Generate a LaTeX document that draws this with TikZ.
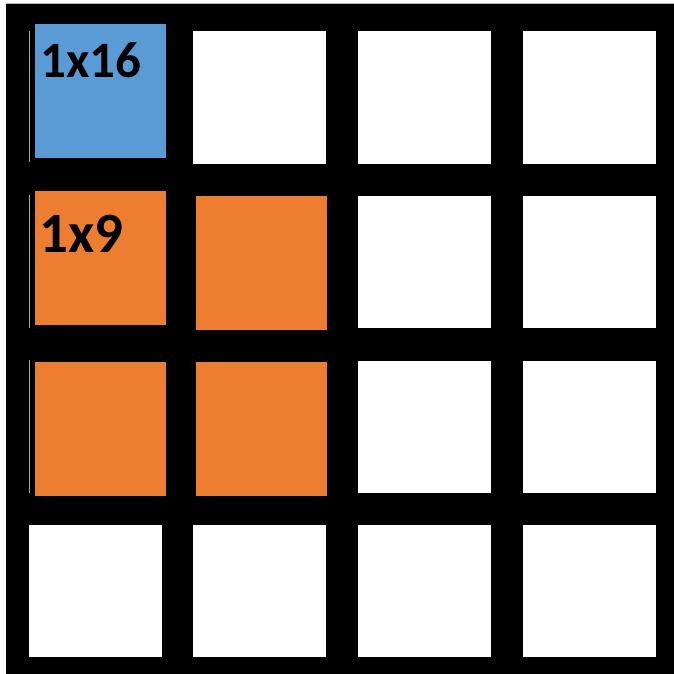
\documentclass[tikz,border=0pt]{standalone}
\usepackage{fontspec}
\newfontfamily\cellfont{Carlito}
\definecolor{cblue}{HTML}{5B9BD5}
\definecolor{corange}{HTML}{ED7D31}
\begin{document}
\begin{tikzpicture}[x=1pt,y=-1pt,
  cell/.style={rectangle,inner sep=0pt,outer sep=0pt,draw=none,minimum width=133pt,minimum height=132pt},
  whitecell/.style={cell,fill=white},
  bluecell/.style={cell,fill=cblue,minimum width=131pt,minimum height=134pt},
  orangecell/.style={cell,fill=corange,minimum width=131pt,minimum height=134pt},
  lbl/.style={anchor=base west,inner sep=0pt,text=black,font=\cellfont\bfseries}]
\useasboundingbox (0,0) rectangle (674,674);
\fill[white] (0,0) rectangle (674,674);
\fill[black] (6,4) rectangle (674,674);
\draw[gray!60,line width=1pt] (6,3.5) -- (674,3.5);
% white cells
\foreach \r/\y in {1/97.5,2/261.5,3/426.5,4/591}{
  \foreach \c/\x in {1/95,2/259.5,3/424.5,4/589}{
    \ifnum\r=4
      \node[whitecell] (w\r\c) at (\x,\y) {};
    \else\ifnum\c>2
      \node[whitecell] (w\r\c) at (\x,\y) {};
    \else\ifnum\r=1\ifnum\c=2
      \node[whitecell] (w\r\c) at (\x,\y) {};
    \fi\fi\fi\fi
  }
}
% thin grey edges left of coloured cells
\draw[gray!70,line width=0.8pt] (29,31) -- (29,162);
\draw[gray!70,line width=0.8pt] (29,195) -- (29,328);
\draw[gray!70,line width=0.8pt] (29,360) -- (29,493);
% coloured cells
\node[bluecell] (b11) at (100.5,91) {};
\node[orangecell] (o21) at (100.5,258) {};
\node[orangecell] (o22) at (261,263) {};
\node[orangecell] (o31) at (100.5,429) {};
\node[orangecell] (o32) at (261,429) {};
% labels
\node[lbl,font=\cellfont\bfseries\fontsize{51}{51}\selectfont] (t16) at (40,78) {1x16};
\node[lbl,font=\cellfont\bfseries\fontsize{57}{57}\selectfont] (t9) at (39.5,252) {1x9};
\end{tikzpicture}
\end{document}
